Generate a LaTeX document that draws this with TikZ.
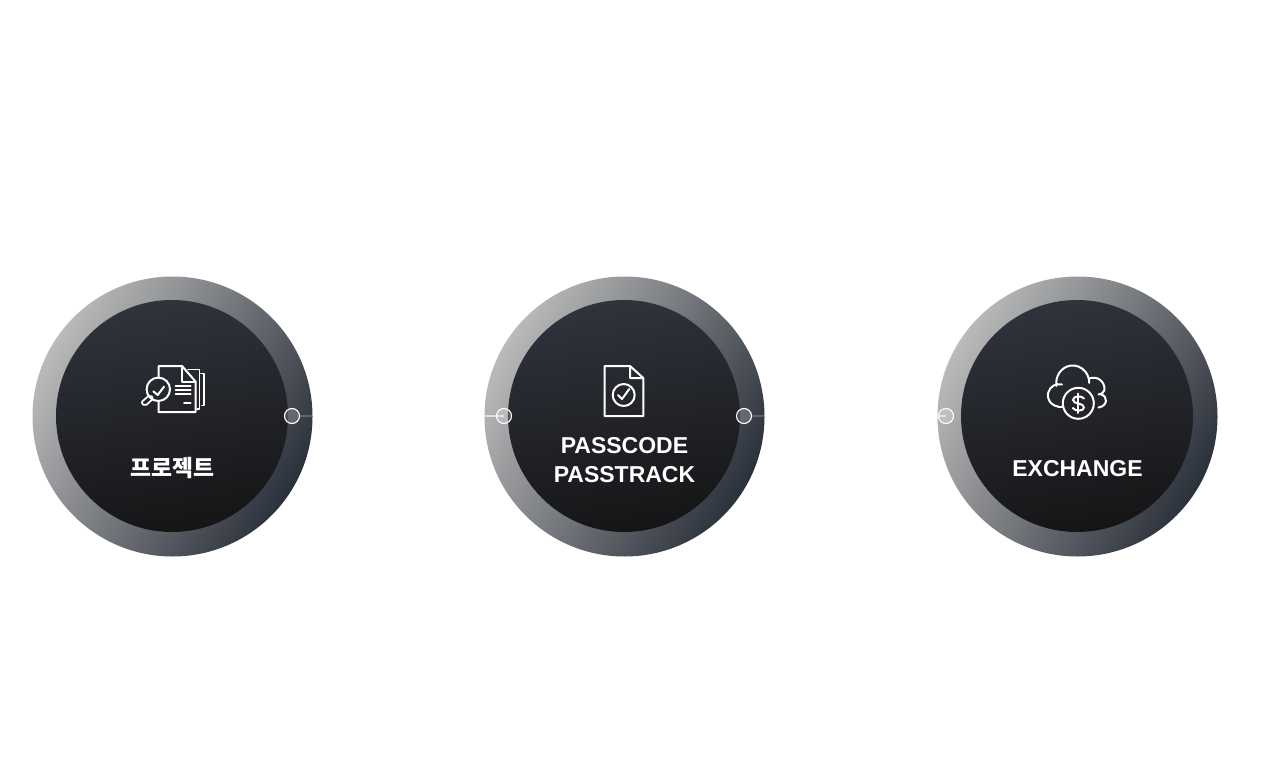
\documentclass[tikz,border=0pt]{standalone}
\usepackage{fontspec}
\setmainfont{Liberation Sans}
\newfontfamily\krfont{Noto Sans CJK KR}
\definecolor{ringA}{HTML}{BABABA}
\definecolor{ringB}{HTML}{2B313B}
\definecolor{discA}{HTML}{2F333C}
\definecolor{discB}{HTML}{151516}
\tikzset{
 ring/.style={circle,minimum size=280,inner sep=0,outer sep=0,shading=axis,left color=ringA,right color=ringB,shading angle=60},
 disc/.style={circle,minimum size=232,inner sep=0,outer sep=0,shading=axis,top color=discA,bottom color=discB,shading angle=10},
 port/.style={circle,minimum size=15,inner sep=0,outer sep=0,draw=white,line width=1.1pt,fill=white,fill opacity=0.2},
 wire/.style={draw=white,opacity=0.2,line width=1.3pt},
 wirelight/.style={draw=white,opacity=0.6,line width=1.3pt},
 icon/.style={draw=white,line width=2pt,line join=round,line cap=round},
 thinicon/.style={icon,line width=1.7pt},
 title/.style={text=white,font=\bfseries\fontsize{23}{29}\selectfont,align=center,inner sep=0},
}
\begin{document}
\begin{tikzpicture}[x=1pt,y=-1pt]
\useasboundingbox (0,0) rectangle (1269,768);
\fill[white] (0,0) rectangle (1269,768);
% circles
\node[ring] (r1) at (172.5,416.5) {};
\node[ring] (r2) at (624.5,416.5) {};
\node[ring] (r3) at (1077.5,416.5) {};
\node[disc] (d1) at (172,416) {};
\node[disc] (d2) at (624,416) {};
\node[disc] (d3) at (1077,416) {};
% ports and connectors
\node[port] (p1) at (292,416) {};
\node[port] (p2l) at (504,416) {};
\node[port] (p2r) at (744,416) {};
\node[port] (p3) at (946,416) {};
\coordinate (e1) at (312,416);
\coordinate (e2l) at (485,416);
\coordinate (e2r) at (764,416);
\coordinate (e3) at (938.5,416);
\draw[wire] (p1) -- (e1);
\draw[wirelight] (e2l) -- (p2l.center);
\draw[wire] (p2r) -- (e2r);
\draw[wirelight] (e3) -- (p3.center);
% titles
\node[title,font=\krfont\bfseries\fontsize{22.8}{29}\selectfont] (t1) at (172.5,467.5) {프로젝트};
\node[title] (t2) at (624.5,460) {PASSCODE\\PASSTRACK};
\node[title] (t3) at (1077.5,468.5) {EXCHANGE};
% icon 1
\draw[icon] (158.5,377.5) -- (158.5,366) -- (182,366) -- (195.5,381.5) -- (195.5,412) -- (158.5,412) -- (158.5,401);
\draw[icon] (182,366) -- (182,381.5) -- (195.5,381.5);
\draw[thinicon] (188,369.5) -- (199.5,369.5) -- (199.5,409) -- (197,409);
\draw[thinicon] (201,373.5) -- (203.7,373.5) -- (203.7,405.5) -- (202,405.5);
\draw[icon] (158.3,389.3) circle (11.7);
\draw[icon] (153.3,391.3) -- (157.7,395) -- (164,386.7);
\draw[thinicon,rounded corners=2pt] (149.8,394.8) -- (153.5,398.3) -- (145,406.2) -- (141,402.5) -- cycle;
\draw[thinicon] (175.5,385.7) -- (190.7,385.7) (175.5,390) -- (190.7,390) (175.5,394.3) -- (190.7,394.3) (184,403.3) -- (190.7,403.3);
% icon 2
\draw[icon] (630,366) -- (604.7,366) -- (604.7,416) -- (643.3,416) -- (643.3,378) -- (630,366) -- (630,378) -- (643.3,378);
\draw[icon] (623.7,395) circle (11);
\draw[icon] (618,395) -- (622,399) -- (629.3,389);
% icon 3
\draw[icon] (1056.5,386) arc (170:360:16.5 and 17.5);
\draw[icon] (1062,384.5) arc (285:95:11.2);
\draw[icon] (1058,406.6) -- (1063,406.6);
\draw[icon] (1089,378.5) .. controls (1097,375.5) and (1105,381) .. (1104.5,390) .. controls (1104,392) and (1102,394) .. (1098.5,394.5);
\draw[icon] (1101,394.5) .. controls (1108,396) and (1108,406) .. (1098.5,407.5);
\draw[icon] (1078.3,403.3) circle (15.5);
\draw[icon] (1084,398.5) .. controls (1082,395.5) and (1073,395.5) .. (1073,400) .. controls (1073,404.5) and (1084,402.5) .. (1084,407.5) .. controls (1084,411.5) and (1075,411.5) .. (1072.8,408);
\draw[icon] (1078.3,393.5) -- (1078.3,413);
\end{tikzpicture}
\end{document}
